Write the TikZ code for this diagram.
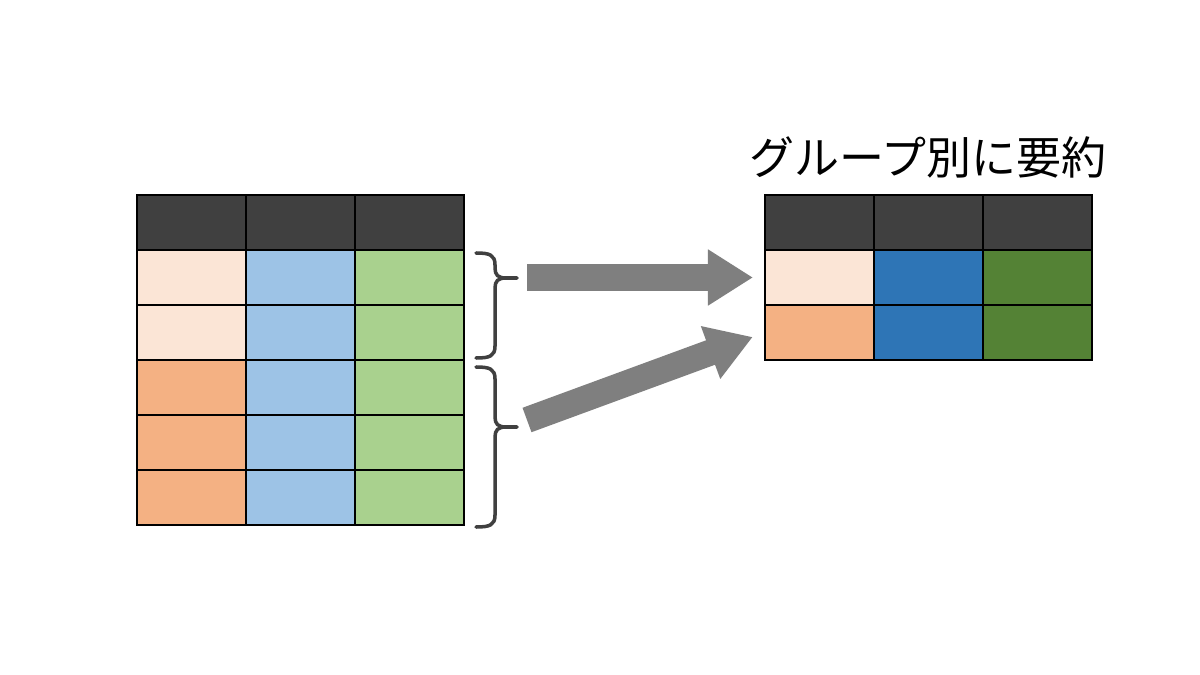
\documentclass[tikz,border=0pt]{standalone}
\usepackage{fontspec}
\newfontfamily\cjk{Noto Sans CJK JP}
\usetikzlibrary{arrows.meta}

\definecolor{hdr}{HTML}{404040}
\definecolor{peachlt}{HTML}{FBE5D6}
\definecolor{peach}{HTML}{F4B183}
\definecolor{bluelt}{HTML}{9DC3E6}
\definecolor{greenlt}{HTML}{A9D18E}
\definecolor{bluedk}{HTML}{2E75B6}
\definecolor{greendk}{HTML}{548235}
\definecolor{arrowgray}{HTML}{7F7F7F}

\tikzset{
  cell/.style={draw=black, line width=1.1pt, minimum width=2.725cm,
    minimum height=1.375cm, inner sep=0pt, outer sep=0pt},
  grpbrace/.style={draw=hdr, line width=2.5pt, line cap=round},
  bigarrow/.style={draw=arrowgray, line width=0.65cm,
    -{Triangle[length=1.125cm,width=1.325cm]}}
}

\begin{document}
\begin{tikzpicture}[x=0.025cm,y=-0.025cm]
        \path[fill=white,use as bounding box] (0,0) rectangle (1200,675);
        % left table
        \foreach \c/\hx in {1/191.5,2/300.5,3/409.5}
          \node[cell, fill=hdr] (L-0-\c) at (\hx,222.5) {};
        \foreach \r/\ry/\kc in {1/277.5/peachlt,2/332.5/peachlt,3/387.5/peach,4/442.5/peach,5/497.5/peach} {
          \node[cell, fill=\kc] (L-\r-1) at (191.5,\ry) {};
          \node[cell, fill=bluelt] (L-\r-2) at (300.5,\ry) {};
          \node[cell, fill=greenlt] (L-\r-3) at (409.5,\ry) {};
        }
        % summary table
        \node[font=\cjk\fontsize{32}{38}\selectfont] (title) at (928,157) {グループ別に要約};
        \foreach \c/\hx in {1/819.5,2/928.5,3/1037.5}
          \node[cell, fill=hdr] (R-0-\c) at (\hx,222.5) {};
        \foreach \r/\ry/\kc in {1/277.5/peachlt,2/332.5/peach} {
          \node[cell, fill=\kc] (R-\r-1) at (819.5,\ry) {};
          \node[cell, fill=bluedk] (R-\r-2) at (928.5,\ry) {};
          \node[cell, fill=greendk] (R-\r-3) at (1037.5,\ry) {};
        }
        % braces
        \draw[grpbrace] (476,253) .. controls (490,253) and (495,255) .. (495,265)
          -- (495,268) .. controls (495,275) and (498,278) .. (506,278) -- (517,278);
        \draw[grpbrace] (506,278) .. controls (498,278) and (495,281) .. (495,288)
          -- (495,346) .. controls (495,356) and (490,358) .. (476,358);
        \draw[grpbrace] (476,367) .. controls (490,367) and (495,369) .. (495,379)
          -- (495,417) .. controls (495,424) and (498,427) .. (506,427) -- (517,427);
        \draw[grpbrace] (506,427) .. controls (498,427) and (495,430) .. (495,437)
          -- (495,515) .. controls (495,525) and (490,527) .. (476,527);
        \coordinate (t1) at (527,277.5);
        \coordinate (t2) at (527,420);
        % arrows
        \draw[bigarrow, shorten >=12*0.025cm] (t1) -- (R-1-1.west);
        \draw[bigarrow, shorten >=13*0.025cm] (t2) -- (R-2-1.west);
\end{tikzpicture}
\end{document}
